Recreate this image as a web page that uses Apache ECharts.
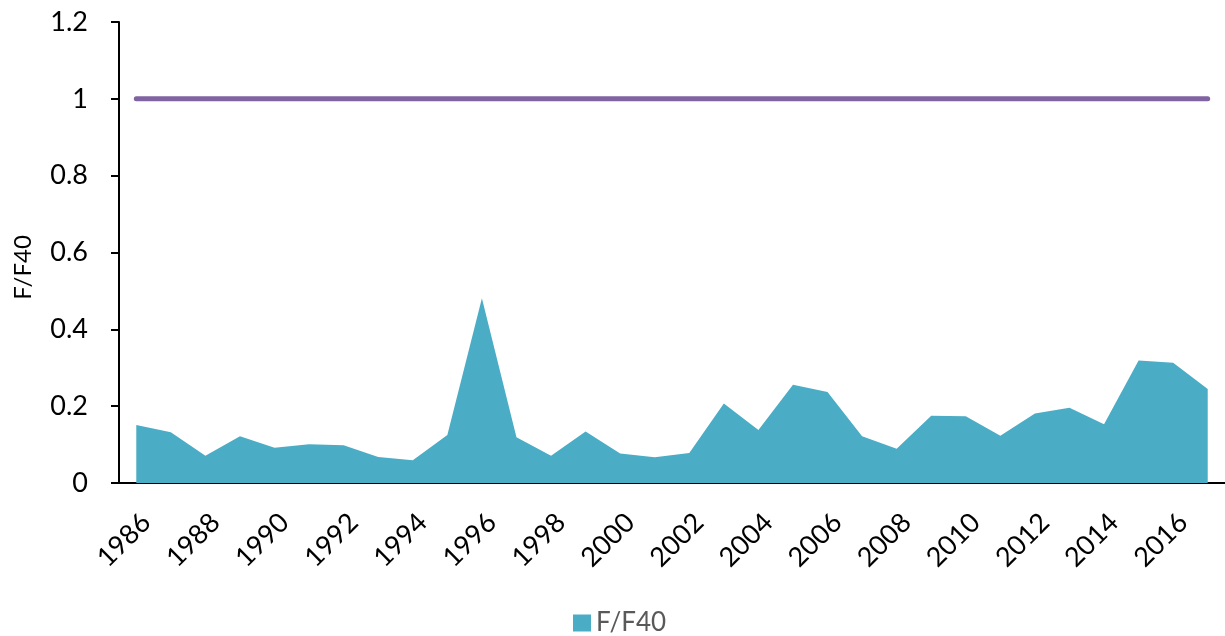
<!DOCTYPE html>
<html>
<head>
<meta charset="utf-8">
<script src="https://cdn.jsdelivr.net/npm/echarts@6/dist/echarts.min.js"></script>
<style>
html,body{margin:0;padding:0;background:#fff;}
#chart{width:1225px;height:636px;}
</style>
</head>
<body>
<div id="chart"></div>
<script>
const years = ['1986','1987','1988','1989','1990','1991','1992','1993','1994','1995','1996','1997','1998','1999','2000','2001','2002','2003','2004','2005','2006','2007','2008','2009','2010','2011','2012','2013','2014','2015','2016','2017'];
const fF40 = [0.151,0.132,0.071,0.122,0.092,0.101,0.098,0.068,0.059,0.125,0.481,0.119,0.071,0.134,0.077,0.067,0.078,0.207,0.138,0.256,0.237,0.122,0.089,0.175,0.174,0.123,0.181,0.196,0.153,0.319,0.313,0.245];
const reference = years.map(() => 1);
const yTicks = { min: 0, max: 1.2, interval: 0.2 };

const chart = echarts.init(document.getElementById('chart'));
const font = 'Lato, "Liberation Sans", sans-serif';
chart.setOption({
  animation: false,
  textStyle: { fontFamily: font },
  grid: { left: 119, top: 22, right: -1, bottom: 153, containLabel: false },
  legend: {
    data: [{ name: 'F/F40', icon: 'rect' }],
    left: 568, top: 605,
    itemWidth: 18, itemHeight: 17, itemGap: 9,
    textStyle: { color: '#595959', fontSize: 26, fontFamily: font }
  },
  xAxis: {
    type: 'category',
    data: years,
    boundaryGap: true,
    axisLine: { lineStyle: { color: '#000', width: 2 } },
    axisTick: { interval: 0, length: 8, lineStyle: { color: '#000', width: 2 } },
    axisLabel: { interval: 1, rotate: 45, color: '#000', fontSize: 27, margin: 45,
      padding: [0, -14, 0, 0], fontFamily: font }
  },
  yAxis: {
    type: 'value',
    min: yTicks.min, max: yTicks.max, interval: yTicks.interval,
    name: 'F/F40',
    nameLocation: 'middle',
    nameGap: 84,
    nameTextStyle: { color: '#000', fontSize: 24, fontFamily: font, padding: [0, 30, 0, 0] },
    splitLine: { show: false },
    axisLine: { show: true, lineStyle: { color: '#000', width: 2 } },
    axisTick: { show: true, length: 8, lineStyle: { color: '#000', width: 2 } },
    axisLabel: { color: '#000', fontSize: 27, margin: 31, fontFamily: font,
      formatter: v => String(Math.round(v * 10) / 10) }
  },
  series: [
    {
      name: 'F/F40',
      type: 'line',
      data: fF40,
      symbol: 'none',
      lineStyle: { width: 0, color: '#4BACC6' },
      itemStyle: { color: '#4BACC6' },
      areaStyle: { color: '#4BACC6', opacity: 1 }
    },
    {
      name: 'Reference',
      type: 'line',
      data: reference,
      symbol: 'none',
      lineStyle: { width: 5, color: '#8064A2', cap: 'round' },
      itemStyle: { color: '#8064A2' }
    }
  ]
});
</script>
</body>
</html>
